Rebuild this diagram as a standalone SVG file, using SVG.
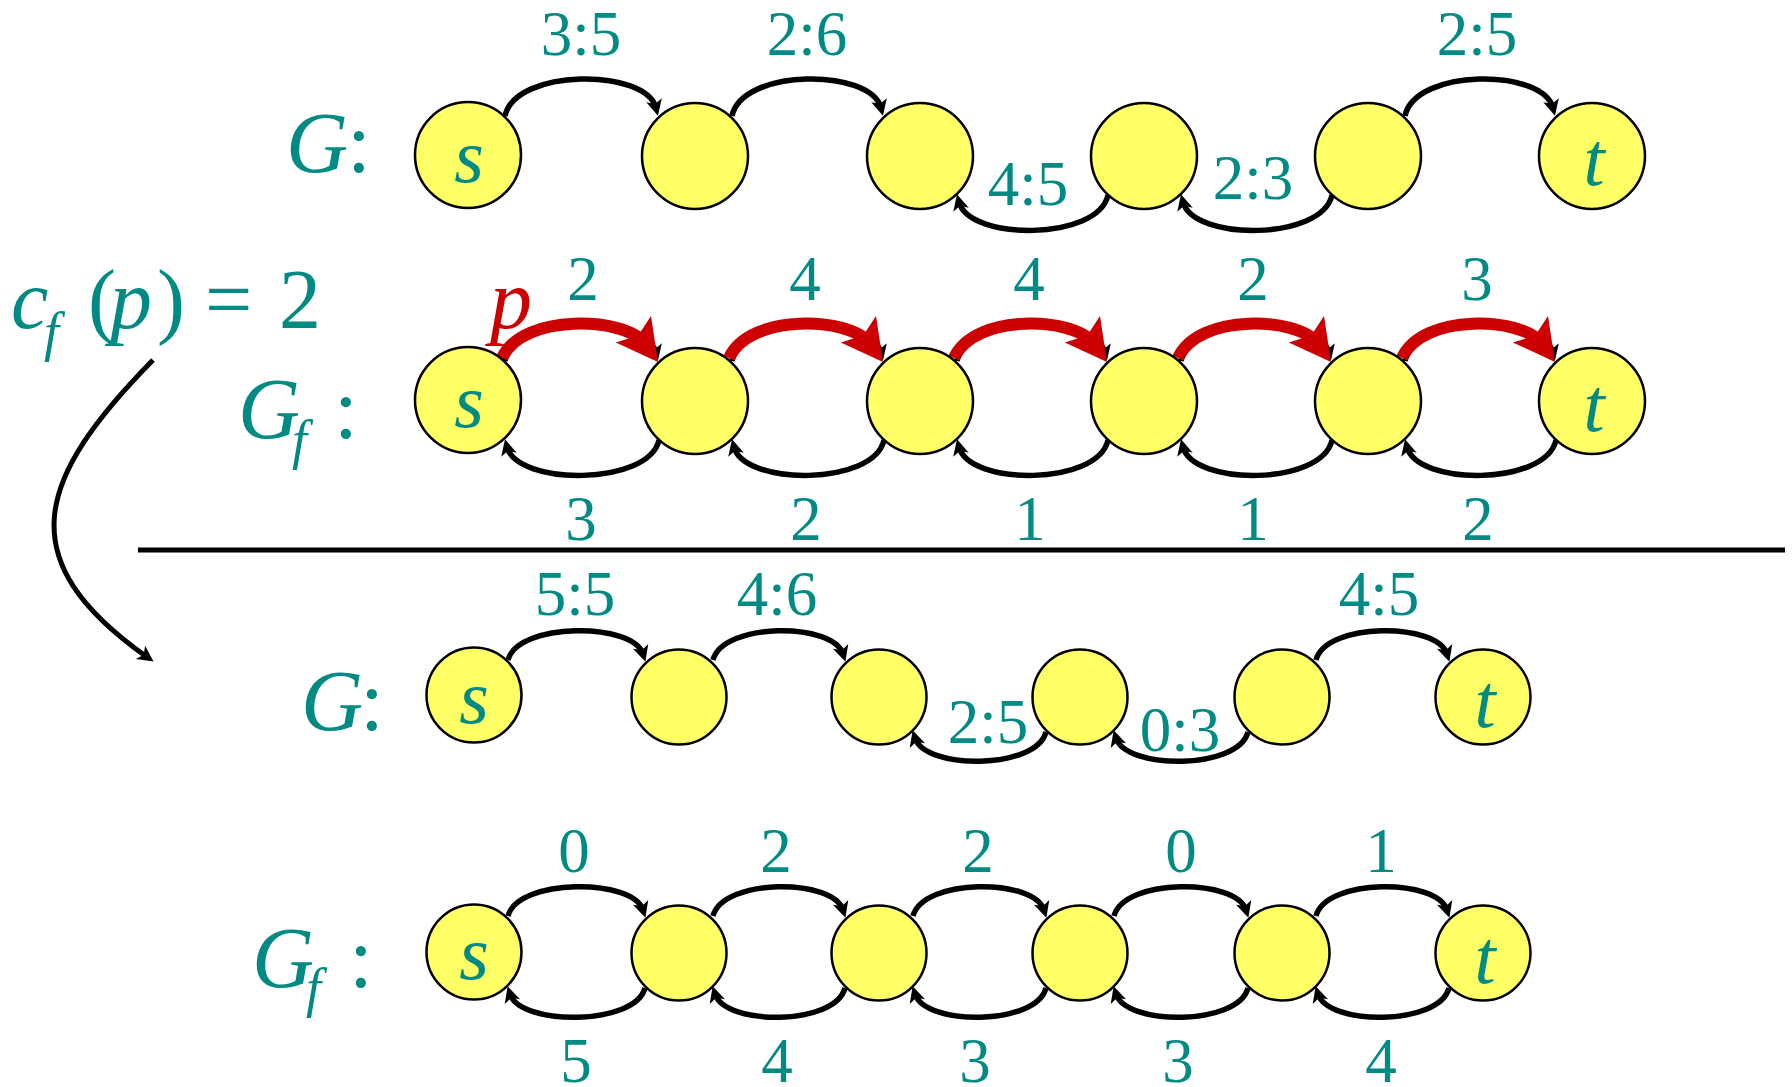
<svg xmlns="http://www.w3.org/2000/svg" width="1792" height="1087" viewBox="0 0 1792 1087">
<style>
.node{fill:#FFFF66;stroke:#000;stroke-width:2.5}
.arc{fill:none;stroke:#000;stroke-width:5.5;marker-end:url(#ah)}
.red{fill:none;stroke:#CC0000;stroke-width:12;marker-end:url(#rh)}
.lbl{font-family:"Liberation Serif","Times New Roman",serif;font-size:63px;fill:#008A84;text-anchor:middle}
.nl{font-family:"Liberation Serif","Times New Roman",serif;font-size:76px;font-style:italic;fill:#008A84;text-anchor:middle}
.big{font-family:"Liberation Serif","Times New Roman",serif;font-size:86px;fill:#008A84}
.it{font-style:italic}
</style>
<defs>
<marker id="ah" markerUnits="userSpaceOnUse" orient="auto" refX="0" refY="0" markerWidth="20" markerHeight="20" overflow="visible">
<path d="M8,0 L-8,-8 L-4,0 L-8,8 Z" fill="#000"/>
</marker>
<marker id="rh" markerUnits="userSpaceOnUse" orient="auto" refX="0" refY="0" markerWidth="50" markerHeight="50" overflow="visible">
<path d="M25,0 L-16,-22 L-8,0 L-16,22 Z" fill="#CC0000"/>
</marker>
</defs>

<g id="connectors">
<!-- Row 1 -->
<path class="arc" d="M505,116 C515,68 646,68 656,108"/>
<path class="arc" d="M732,116 C742,68 871,68 881,108"/>
<path class="arc" d="M1405,116 C1415,68 1543,68 1553,108"/>
<path class="arc" d="M1108,195 C1098,241 969,241 959,202"/>
<path class="arc" d="M1332,195 C1322,241 1193,241 1183,202"/>
<!-- Row 2 black -->
<path class="arc" d="M505,361 C515,313 646,313 656,353"/>
<path class="arc" d="M732,361 C742,313 871,313 881,353"/>
<path class="arc" d="M957,361 C967,313 1095,313 1105,353"/>
<path class="arc" d="M1181,361 C1191,313 1319,313 1329,353"/>
<path class="arc" d="M1405,361 C1415,313 1543,313 1553,353"/>
<path class="arc" d="M659,440 C649,486 517,486 507,447"/>
<path class="arc" d="M884,440 C874,486 744,486 734,447"/>
<path class="arc" d="M1108,440 C1098,486 969,486 959,447"/>
<path class="arc" d="M1332,440 C1322,486 1193,486 1183,447"/>
<path class="arc" d="M1556,440 C1546,486 1417,486 1407,447"/>
<!-- Row 2 red path p -->
<path class="red" d="M502,358 C523,312 625,318 643,342"/>
<path class="red" d="M729,358 C750,312 850,318 868,342"/>
<path class="red" d="M954,358 C975,312 1074,318 1092,342"/>
<path class="red" d="M1178,358 C1199,312 1298,318 1316,342"/>
<path class="red" d="M1402,358 C1423,312 1522,318 1540,342"/>
<!-- Row 3 -->
<path class="arc" d="M508,660 C518,622 633,622 643,654"/>
<path class="arc" d="M713,660 C723,622 833,622 843,654"/>
<path class="arc" d="M1316,660 C1326,622 1437,622 1447,654"/>
<path class="arc" d="M1046,732 C1036,770 925,770 915,738"/>
<path class="arc" d="M1248,732 C1238,770 1126,770 1116,738"/>
<!-- Row 4 -->
<path class="arc" d="M508,916 C518,878 633,878 643,910"/>
<path class="arc" d="M713,916 C723,878 833,878 843,910"/>
<path class="arc" d="M913,916 C923,878 1034,878 1044,910"/>
<path class="arc" d="M1114,916 C1124,878 1236,878 1246,910"/>
<path class="arc" d="M1316,916 C1326,878 1437,878 1447,910"/>
<path class="arc" d="M645,988 C635,1026 520,1026 510,994"/>
<path class="arc" d="M845,988 C835,1026 725,1026 715,994"/>
<path class="arc" d="M1046,988 C1036,1026 925,1026 915,994"/>
<path class="arc" d="M1248,988 C1238,1026 1126,1026 1116,994"/>
<path class="arc" d="M1449,988 C1439,1026 1328,1026 1318,994"/>
<!-- big left arrow -->
<path class="arc" style="stroke-width:5" d="M153,360 C35,480 10,560 147,657"/>
<!-- separator -->
<line x1="138" y1="550" x2="1785" y2="550" stroke="#000" stroke-width="5"/>
</g>

<!-- Row 1 nodes -->
<g id="g1-s"><ellipse class="node" cx="468" cy="155" rx="53" ry="53"/><text class="nl" x="469" y="182">s</text></g>
<g id="g1-v1"><ellipse class="node" cx="695" cy="156" rx="53" ry="53"/></g>
<g id="g1-v2"><ellipse class="node" cx="920" cy="156" rx="53" ry="53"/></g>
<g id="g1-v3"><ellipse class="node" cx="1144" cy="156" rx="53" ry="53"/></g>
<g id="g1-v4"><ellipse class="node" cx="1368" cy="156" rx="53" ry="53"/></g>
<g id="g1-t"><ellipse class="node" cx="1592" cy="156" rx="53" ry="53"/><text class="nl" x="1594" y="185">t</text></g>

<!-- Row 2 nodes -->
<g id="g2-s"><ellipse class="node" cx="468" cy="400" rx="53" ry="53"/><text class="nl" x="469" y="427">s</text></g>
<g id="g2-v1"><ellipse class="node" cx="695" cy="401" rx="53" ry="53"/></g>
<g id="g2-v2"><ellipse class="node" cx="920" cy="401" rx="53" ry="53"/></g>
<g id="g2-v3"><ellipse class="node" cx="1144" cy="401" rx="53" ry="53"/></g>
<g id="g2-v4"><ellipse class="node" cx="1368" cy="401" rx="53" ry="53"/></g>
<g id="g2-t"><ellipse class="node" cx="1592" cy="401" rx="53" ry="53"/><text class="nl" x="1594" y="431">t</text></g>

<!-- Row 3 nodes -->
<g id="g3-s"><ellipse class="node" cx="474" cy="695" rx="47.5" ry="47.5"/><text class="nl" x="474" y="723">s</text></g>
<g id="g3-v1"><ellipse class="node" cx="679" cy="697" rx="47.5" ry="47.5"/></g>
<g id="g3-v2"><ellipse class="node" cx="879" cy="697" rx="47.5" ry="47.5"/></g>
<g id="g3-v3"><ellipse class="node" cx="1080" cy="697" rx="47.5" ry="47.5"/></g>
<g id="g3-v4"><ellipse class="node" cx="1282" cy="697" rx="47.5" ry="47.5"/></g>
<g id="g3-t"><ellipse class="node" cx="1483" cy="697" rx="47.5" ry="47.5"/><text class="nl" x="1485" y="727">t</text></g>

<!-- Row 4 nodes -->
<g id="g4-s"><ellipse class="node" cx="474" cy="952" rx="47.5" ry="47.5"/><text class="nl" x="474" y="979">s</text></g>
<g id="g4-v1"><ellipse class="node" cx="679" cy="953" rx="47.5" ry="47.5"/></g>
<g id="g4-v2"><ellipse class="node" cx="879" cy="953" rx="47.5" ry="47.5"/></g>
<g id="g4-v3"><ellipse class="node" cx="1080" cy="953" rx="47.5" ry="47.5"/></g>
<g id="g4-v4"><ellipse class="node" cx="1282" cy="953" rx="47.5" ry="47.5"/></g>
<g id="g4-t"><ellipse class="node" cx="1483" cy="953" rx="47.5" ry="47.5"/><text class="nl" x="1485" y="983">t</text></g>

<g id="labels">
<!-- Row 1 -->
<text class="lbl" x="581" y="55">3:5</text>
<text class="lbl" x="807" y="55">2:6</text>
<text class="lbl" x="1477" y="55">2:5</text>
<text class="lbl" x="1028" y="205">4:5</text>
<text class="lbl" x="1253" y="199">2:3</text>
<!-- Row 2 -->
<text class="lbl" x="583" y="300">2</text>
<text class="lbl" x="805" y="300">4</text>
<text class="lbl" x="1029" y="300">4</text>
<text class="lbl" x="1253" y="300">2</text>
<text class="lbl" x="1477" y="300">3</text>
<text class="lbl" x="581" y="540">3</text>
<text class="lbl" x="806" y="540">2</text>
<text class="lbl" x="1030" y="540">1</text>
<text class="lbl" x="1253" y="540">1</text>
<text class="lbl" x="1478" y="540">2</text>
<!-- Row 3 -->
<text class="lbl" x="575" y="615">5:5</text>
<text class="lbl" x="777" y="615">4:6</text>
<text class="lbl" x="1379" y="615">4:5</text>
<text class="lbl" x="988" y="743">2:5</text>
<text class="lbl" x="1180" y="751">0:3</text>
<!-- Row 4 -->
<text class="lbl" x="574" y="872">0</text>
<text class="lbl" x="776" y="872">2</text>
<text class="lbl" x="978" y="872">2</text>
<text class="lbl" x="1181" y="872">0</text>
<text class="lbl" x="1381" y="872">1</text>
<text class="lbl" x="576" y="1082">5</text>
<text class="lbl" x="777" y="1082">4</text>
<text class="lbl" x="975" y="1082">3</text>
<text class="lbl" x="1178" y="1082">3</text>
<text class="lbl" x="1381" y="1082">4</text>

<!-- Graph names -->
<text class="big" x="286" y="172"><tspan class="it">G</tspan></text>
<text class="big" x="347" y="172">:</text>
<text class="big" x="238" y="438"><tspan class="it">G</tspan></text>
<text class="big it" x="292" y="458" style="font-size:54px">f</text>
<text class="big" x="334" y="438">:</text>
<text class="big" x="301" y="730"><tspan class="it">G</tspan></text>
<text class="big" x="360" y="730">:</text>
<text class="big" x="252" y="987"><tspan class="it">G</tspan></text>
<text class="big it" x="306" y="1006" style="font-size:54px">f</text>
<text class="big" x="349" y="987">:</text>

<!-- c_f(p) = 2 -->
<text class="big it" x="11" y="328" style="font-size:84px">c</text>
<text class="big it" x="44" y="350" style="font-size:54px">f</text>
<text class="big" x="88" y="328" style="font-size:84px">(</text>
<text class="big it" x="110" y="328" style="font-size:84px">p</text>
<text class="big" x="157" y="328" style="font-size:84px">)</text>
<text class="big" x="205" y="328" style="font-size:84px">=</text>
<text class="big" x="279" y="328" style="font-size:84px">2</text>

<!-- path name p -->
<text x="511" y="328" style="font-family:'Liberation Serif','Times New Roman',serif;font-size:84px;font-style:italic;fill:#CC0000;text-anchor:middle">p</text>
</g>
</svg>
